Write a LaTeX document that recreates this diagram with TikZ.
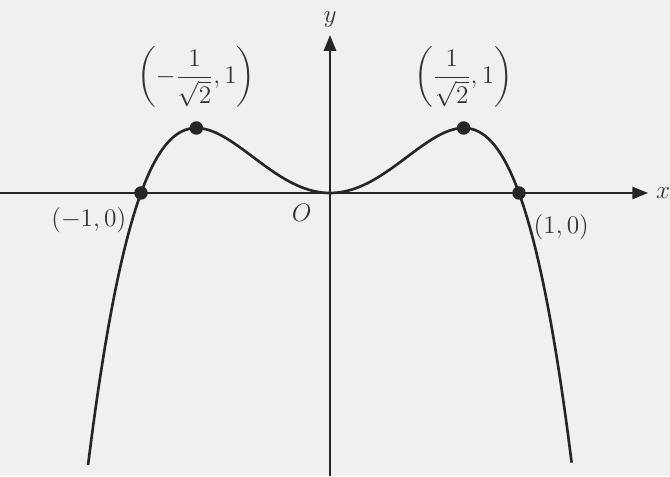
\documentclass[tikz,border=0pt]{standalone}
\usepackage{amsmath}
\usepackage{tikz}
\usetikzlibrary{positioning,arrows.meta}
\tikzset{axis/.style={draw=black!85, line width=1.1pt, -{Triangle[length=9pt,width=7pt]}},
       curve/.style={draw=black!85, line width=1.5pt, smooth},
       dot/.style={circle, fill=black!85, inner sep=0pt, minimum size=0.27cm},
       coord/.style={font=\fontsize{14}{16}\selectfont, text=black!80}}

\begin{document}
\begin{tikzpicture}[x=3.78cm, y=1.3cm]
\fill[gray!12] (-1.746,-4.354) rectangle (1.799,2.969);
\useasboundingbox (-1.746,-4.354) rectangle (1.799,2.969);
% axes
\coordinate (xl) at (-1.746,0);
\coordinate (xr) at (1.683,0);
\coordinate (yb) at (0,-4.354);
\coordinate (yt) at (0,2.43);
\draw [axis] (xl) -- (xr);
\draw [axis] (yb) -- (yt);
\node [coord, right=1pt of xr] {$x$};
\node [coord, above=1pt of yt] {$y$};
\node [coord] (O) at (-0.15,-0.3) {$O$};
% graph
\draw [curve] plot[domain=-1.28:1.28, samples=120] (\x, {4*\x*\x*(1-\x*\x)});
\node [dot] (A) at (-1,0) {};
\node [dot] (B) at (1,0) {};
\node [dot] (P) at (-0.7071,1) {};
\node [dot] (Q) at (0.7071,1) {};
\node [coord, below left=2pt and 2pt of A] {$(-1,0)$};
\node [coord, below right=6pt and 2pt of B] {$(1,0)$};
\node [coord, above=4pt of P] {$\left(-\dfrac{1}{\sqrt{2}},1\right)$};
\node [coord, above=4pt of Q] {$\left(\dfrac{1}{\sqrt{2}},1\right)$};
\end{tikzpicture}
\end{document}
